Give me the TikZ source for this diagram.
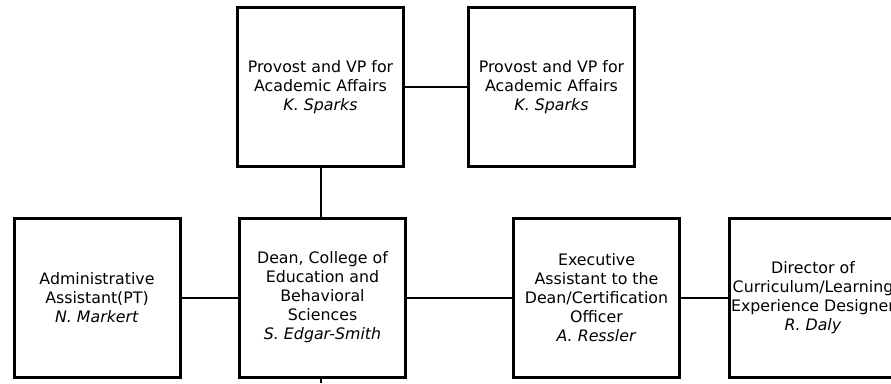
\documentclass[tikz,border=0pt]{standalone}
\usepackage{fontspec}
\setsansfont{DejaVu Sans}
\usepackage{tikz}
\usetikzlibrary{positioning}

\begin{document}
\begin{tikzpicture}[x=1pt,y=-1pt,font=\sffamily\fontsize{15.8}{19}\selectfont]
  \tikzset{post/.style={draw=black,line width=3pt,minimum width=166pt,minimum height=159pt,align=center,inner sep=2pt},
    link/.style={draw=black,line width=2pt}}
  \useasboundingbox (0,0) rectangle (891,383);
  % top row
  \node[post] (provost) at (320.5,87) {Provost and VP for\\Academic Affairs\\\textit{K. Sparks}};
  \node[post] (provostb) at (551.5,87) {Provost and VP for\\Academic Affairs\\\textit{K. Sparks}};
  % bottom row
  \node[post] (admin) at (97,297.5) {Administrative\\Assistant(PT)\\\textit{N. Markert}};
  \node[post] (dean) at (322.5,297.5) {Dean, College of\\Education and\\Behavioral\\Sciences\\\textit{S. Edgar-Smith}};
  \node[post] (exec) at (596.5,297.5) {Executive\\Assistant to the\\Dean/Certification\\Officer\\\textit{A. Ressler}};
  \node[post] (director) at (813,297.5) {Director of\\Curriculum/Learning\\Experience Designer\\\textit{R. Daly}};
  \coordinate (below) at (321,383);
  \draw[link] (provost) -- (provostb);
  \draw[link] (provost.south) -- (provost.south |- dean.north);
  \draw[link] (admin) -- (dean);
  \draw[link] (dean) -- (exec);
  \draw[link] (exec) -- (director);
  \draw[link] (below |- dean.south) -- (below);
\end{tikzpicture}
\end{document}
